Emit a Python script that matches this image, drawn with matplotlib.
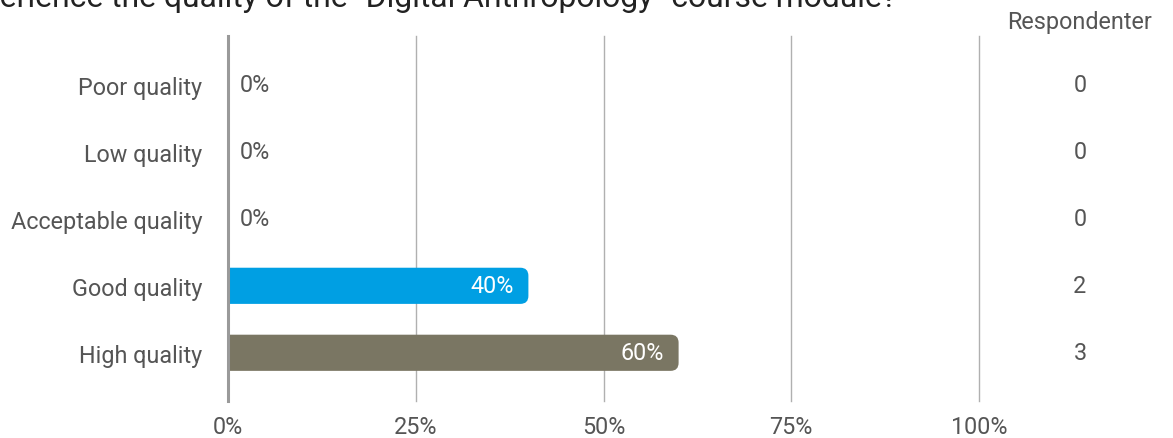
import matplotlib
matplotlib.use("Agg")
import matplotlib.pyplot as plt
from matplotlib.patches import FancyBboxPatch
from matplotlib.transforms import blended_transform_factory

plt.rcParams['font.family'] = ['Roboto', 'DejaVu Sans']

title = 'How did you experience the quality of the "Digital Anthropology" course module?'
title_hidden_prefix = 'How did you exp'
categories = ["Poor quality", "Low quality", "Acceptable quality", "Good quality", "High quality"]
percents = [0, 0, 0, 40, 60]
respondents = [0, 0, 0, 2, 3]
bar_colors = ["#009fe3", "#009fe3", "#009fe3", "#009fe3", "#7a7663"]
xticks = [0, 25, 50, 75, 100]
xticklabels = ["0%", "25%", "50%", "75%", "100%"]
count_header = "Respondenter"

W, H = 1173, 439
fig = plt.figure(figsize=(W / 100, H / 100), dpi=100)
ax = fig.add_axes([228 / W, (H - 402) / H, (979 - 228) / W, (402 - 37) / H])

ax.set_xlim(0, 100)
ax.set_ylim(4.72, -0.73)

text_col = "#555555"
fs = 16.8
bar_h = 0.54
rx = 1.07
asp = (8 / 67) / rx
for i, (p, c) in enumerate(zip(percents, bar_colors)):
    if p > 0:
        patch = FancyBboxPatch((-3, i - bar_h / 2), p + 3, bar_h,
                               boxstyle=f"round,pad=0,rounding_size={rx}",
                               mutation_aspect=asp, facecolor=c, edgecolor="none", zorder=2)
        ax.add_patch(patch)
        ax.text(p - 1.9, i, f"{p}%", color="white", ha="right", va="center",
                fontsize=fs, zorder=3)
    else:
        ax.text(1.6, i, f"{p}%", color=text_col, ha="left", va="center", fontsize=fs, zorder=3)

for xv in xticks[1:]:
    ax.axvline(xv, color="#b0b0b0", lw=1.0, zorder=1, clip_on=False)
ax.axvline(0, color="#9a9a9a", lw=2.2, zorder=4, clip_on=False)

ax.set_xticks(xticks)
ax.set_xticklabels(xticklabels)
ax.set_yticks(range(len(categories)))
ax.set_yticklabels(categories)
ax.tick_params(axis="x", length=0, pad=10, labelsize=fs, labelcolor=text_col)
ax.tick_params(axis="y", length=0, pad=18.5, labelsize=fs, labelcolor=text_col)
for s in ax.spines.values():
    s.set_visible(False)

tr = blended_transform_factory(fig.transFigure, ax.transData)
for i, n in enumerate(respondents):
    ax.text(1080 / W, i, str(n), transform=tr,
            ha="center", va="center", fontsize=fs, color=text_col)

fig.text(1080 / W, 1 - 23 / H, count_header, ha="center", va="center", fontsize=fs, color=text_col)

# title: clipped at the top-left as in the reference
renderer = fig.canvas.get_renderer()
probe = fig.text(0, 0, title, fontsize=20)
full_w = probe.get_window_extent(renderer).width
probe.set_text(title_hidden_prefix.replace(" ", "\u00a0"))
pre_w = probe.get_window_extent(renderer).width
probe.remove()
tfs = 20 * 897 / (full_w - pre_w)
fig.text(-(pre_w * tfs / 20) / W, 1 - 7 / H, title, ha="left", va="baseline",
         fontsize=tfs, color="#222222")

fig.savefig("out.png", dpi=100)
